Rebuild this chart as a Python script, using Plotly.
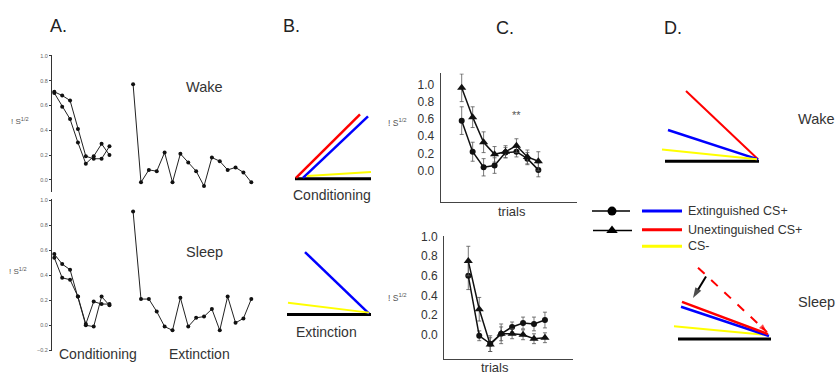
import plotly.graph_objects as go

W, H = 839, 382
FONT = "Arial, Liberation Sans, sans-serif"

# ---------------- data ----------------
cond_trials = [1, 2, 3, 4, 5, 6, 7, 8]
ext_trials = list(range(1, 17))
EXT_OFFSET = 10  # extinction trials drawn after a gap on the same axis

wake_cond_a = [0.71, 0.68, 0.64, 0.41, 0.19, 0.17, 0.17, 0.27]
wake_cond_b = [0.70, 0.59, 0.49, 0.30, 0.13, 0.19, 0.29, 0.20]
wake_ext = [0.77, -0.02, 0.08, 0.07, 0.22, -0.02, 0.21, 0.14,
            0.07, -0.05, 0.18, 0.15, 0.08, 0.10, 0.06, -0.02]

sleep_cond_a = [0.57, 0.49, 0.445, 0.23, 0.00, -0.01, 0.23, 0.16]
sleep_cond_b = [0.54, 0.38, 0.365, 0.23, 0.01, 0.19, 0.17, 0.17]
sleep_ext = [0.91, 0.21, 0.21, 0.11, -0.01, -0.04, 0.22, -0.01,
             0.06, 0.07, 0.13, -0.04, 0.23, 0.02, 0.055, 0.21]

c_trials = [1, 2, 3, 4, 5, 6, 7, 8]
c_wake_unext = [0.96, 0.62, 0.33, 0.19, 0.22, 0.29, 0.16, 0.11]
c_wake_unext_err = [0.16, 0.12, 0.12, 0.09, 0.07, 0.08, 0.08, 0.11]
c_wake_ext = [0.58, 0.22, 0.04, 0.06, 0.21, 0.22, 0.14, 0.01]
c_wake_ext_err = [0.16, 0.11, 0.10, 0.09, 0.06, 0.06, 0.07, 0.08]

c_sleep_unext = [0.75, 0.26, -0.10, 0.01, 0.01, 0.00, -0.04, -0.03]
c_sleep_unext_err = [0.15, 0.12, 0.07, 0.10, 0.05, 0.05, 0.05, 0.05]
c_sleep_ext = [0.60, -0.01, -0.09, 0.01, 0.08, 0.12, 0.11, 0.15]
c_sleep_ext_err = [0.14, 0.05, 0.08, 0.07, 0.05, 0.06, 0.07, 0.08]

a_ticks = [-0.2, 0.0, 0.2, 0.4, 0.6, 0.8, 1.0]
c_ticks = [0.0, 0.2, 0.4, 0.6, 0.8, 1.0]

# schematic diagrams (panels B and D): segments in figure-pixel frame
# (x0, y0, x1, y1, colour, width, dash)
schematic = [
    # B conditioning
    (295, 176, 371, 176, "black", 3, "solid"),
    (296, 175, 360, 110, "#ff0000", 2.5, "solid"),
    (303, 175, 368, 112, "#0000ff", 2.5, "solid"),
    (307, 173, 371, 169, "#ffff00", 2, "solid"),
    # B extinction
    (287, 315, 371, 315, "black", 3, "solid"),
    (305, 251, 369, 314, "#0000ff", 2.5, "solid"),
    (288, 303, 369, 313, "#ffff00", 2, "solid"),
    # D wake
    (665, 158, 759, 158, "black", 3, "solid"),
    (686, 86, 758, 156, "#ff0000", 2, "solid"),
    (668, 126, 758, 156, "#0000ff", 2.5, "solid"),
    (662, 146, 757, 156, "#ffff00", 2, "solid"),
    # D sleep
    (678, 340, 771, 340, "black", 3, "solid"),
    (674, 327, 768, 336, "#ffff00", 2, "solid"),
    (681, 307, 769, 337, "#0000ff", 2.5, "solid"),
    (682, 302, 768, 335, "#ff0000", 2.5, "solid"),
    (698, 267, 764, 330, "#ff0000", 2, "dash"),
    # legend swatches
    (592, 209, 630, 209, "black", 1.5, "solid"),
    (593, 229, 632, 229, "black", 1.5, "solid"),
    (642, 209, 682, 209, "#0000ff", 3, "solid"),
    (642, 228, 682, 228, "#ff0000", 3, "solid"),
    (642, 245, 682, 245, "#ffff00", 3, "solid"),
]
legend_markers = [(612, 209, "circle", 9), (612, 229, "triangle-up", 10)]
# arrows (tail x, tail y, head x, head y, colour, head size)
arrows = [(706, 276, 693, 298, "black", 11), (762, 328, 767, 333, "#ff0000", 9)]


def px(x):
    return x / W


def py(y):
    return 1 - y / H


def lin_range(p0, p1, p_ref, v_ref, px_per_unit, invert=False):
    if invert:  # vertical: pixel grows downward
        return [v_ref + (p_ref - p1) / px_per_unit, v_ref + (p_ref - p0) / px_per_unit]
    return [v_ref + (p0 - p_ref) / px_per_unit, v_ref + (p1 - p_ref) / px_per_unit]


fig = go.Figure()

line_a = dict(color="#222", width=1)
mk_a = dict(color="#111", size=4, symbol="circle")

# Panel A top (wake)
for s in (wake_cond_a, wake_cond_b):
    fig.add_trace(go.Scatter(x=cond_trials, y=s, mode="lines+markers", line=line_a,
                             marker=mk_a, xaxis="x", yaxis="y", showlegend=False))
fig.add_trace(go.Scatter(x=[t + EXT_OFFSET for t in ext_trials], y=wake_ext, mode="lines+markers",
                         line=line_a, marker=mk_a, xaxis="x", yaxis="y", showlegend=False))
# Panel A bottom (sleep)
for s in (sleep_cond_a, sleep_cond_b):
    fig.add_trace(go.Scatter(x=cond_trials, y=s, mode="lines+markers", line=line_a,
                             marker=mk_a, xaxis="x2", yaxis="y2", showlegend=False))
fig.add_trace(go.Scatter(x=[t + EXT_OFFSET for t in ext_trials], y=sleep_ext, mode="lines+markers",
                         line=line_a, marker=mk_a, xaxis="x2", yaxis="y2", showlegend=False))

# Panel C


def c_trace(y, err, sym, size, xa, ya):
    return go.Scatter(x=c_trials, y=y, mode="lines+markers",
                      line=dict(color="#111", width=1.5),
                      marker=dict(color="#111", size=size, symbol=sym),
                      error_y=dict(type="data", array=err, color="#555", thickness=0.8, width=2),
                      xaxis=xa, yaxis=ya, showlegend=False)


fig.add_trace(c_trace(c_wake_ext, c_wake_ext_err, "circle", 6, "x3", "y3"))
fig.add_trace(c_trace(c_wake_unext, c_wake_unext_err, "triangle-up", 8, "x3", "y3"))
fig.add_trace(c_trace(c_sleep_ext, c_sleep_ext_err, "circle", 6, "x4", "y4"))
fig.add_trace(c_trace(c_sleep_unext, c_sleep_unext_err, "triangle-up", 8, "x4", "y4"))

# schematic lines
for x0, y0, x1, y1, col, wd, dash in schematic:
    fig.add_trace(go.Scatter(x=[x0, x1], y=[y0, y1], mode="lines",
                             line=dict(color=col, width=wd, dash=dash),
                             xaxis="x5", yaxis="y5", showlegend=False, hoverinfo="skip"))
for x, y, sym, sz in legend_markers:
    fig.add_trace(go.Scatter(x=[x], y=[y], mode="markers",
                             marker=dict(color="black", size=sz, symbol=sym),
                             xaxis="x5", yaxis="y5", showlegend=False, hoverinfo="skip"))
for x0, y0, x1, y1, col, sz in arrows:
    fig.add_trace(go.Scatter(x=[x0, x1], y=[y0, y1], mode="lines+markers",
                             line=dict(color=col, width=2),
                             marker=dict(symbol="arrow", size=[0, sz], color=col, angleref="previous",
                                         line=dict(width=0)),
                             xaxis="x5", yaxis="y5", showlegend=False, hoverinfo="skip"))

# axes
A_X = dict(p_ref=54.3, v_ref=1, px_per_unit=7.88)
a_x_dom = (52, 262)
a_xrange = lin_range(a_x_dom[0], a_x_dom[1], **A_X)

a_y_common = dict(showline=True, linecolor="#333", linewidth=1.2, ticks="outside", ticklen=2,
                  tickcolor="#333", tickfont=dict(size=5.5, color="#666", family=FONT),
                  tickformat=".1f", tickvals=a_ticks, showgrid=False, zeroline=False)

top_dom = (49.5, 189.7)
bot_dom = (197, 352.5)

c_y_common = dict(showline=True, linecolor="#444", linewidth=1.2, ticks="",
                  tickfont=dict(size=12, color="#333", family=FONT),
                  tickformat=".1f", tickvals=c_ticks, showgrid=False, zeroline=False, ticklabelstandoff=3)
c_x_common = dict(showline=True, linecolor="#444", linewidth=1.2, ticks="", showticklabels=False,
                  showgrid=False, zeroline=False)

c1x = (440.7, 577)
c1y = (68, 199.3)
c2x = (444.3, 573)
c2y = (235, 360)

fig.update_layout(
    width=W, height=H, margin=dict(l=0, r=0, t=0, b=0),
    paper_bgcolor="white", plot_bgcolor="rgba(0,0,0,0)",
    font=dict(family=FONT, color="#333"),
    xaxis=dict(domain=[px(a_x_dom[0]), px(a_x_dom[1])], range=a_xrange, visible=False),
    yaxis=dict(domain=[py(top_dom[1]), py(top_dom[0])],
               range=lin_range(top_dom[0], top_dom[1], 177, 0, 127, invert=True),
               anchor="x", **a_y_common),
    xaxis2=dict(domain=[px(a_x_dom[0]), px(a_x_dom[1])], range=a_xrange, visible=False),
    yaxis2=dict(domain=[py(bot_dom[1]), py(bot_dom[0])],
                range=lin_range(bot_dom[0], bot_dom[1], 326, 0, 128, invert=True),
                anchor="x2", **a_y_common),
    xaxis3=dict(domain=[px(c1x[0]), px(c1x[1])], range=lin_range(c1x[0], c1x[1], 461.7, 1, 10.95),
                anchor="y3", **c_x_common),
    yaxis3=dict(domain=[py(c1y[1]), py(c1y[0])],
                range=lin_range(c1y[0], c1y[1], 167.7, 0, 88.5, invert=True),
                anchor="x3", **c_y_common),
    xaxis4=dict(domain=[px(c2x[0]), px(c2x[1])], range=lin_range(c2x[0], c2x[1], 468.3, 1, 10.95),
                anchor="y4", **c_x_common),
    yaxis4=dict(domain=[py(c2y[1]), py(c2y[0])],
                range=lin_range(c2y[0], c2y[1], 335.7, 0, 100.7, invert=True),
                anchor="x4", **c_y_common),
    xaxis5=dict(domain=[0, 1], range=[0, W], visible=False, anchor="y5"),
    yaxis5=dict(domain=[0, 1], range=[H, 0], visible=False, anchor="x5"),
)


def txt(x, y, s, size, color="#333", xanchor="center"):
    fig.add_annotation(x=px(x), y=py(y), xref="paper", yref="paper", text=s, showarrow=False,
                       font=dict(size=size, color=color, family=FONT), xanchor=xanchor, yanchor="middle")


S12 = "! S<sup>1/2</sup>"
# headings
txt(58, 19, "A.", 18, "#222")
txt(291, 19, "B.", 18, "#222")
txt(505, 21, "C.", 18, "#222")
txt(673, 21, "D.", 18, "#222")
# panel A
txt(20, 117, S12, 8, "#555")
txt(18, 270, S12, 8, "#555")
txt(204, 82, "Wake", 14.5)
txt(204, 251, "Sleep", 14.5)
txt(98, 355, "Conditioning", 14)
txt(199, 355, "Extinction", 14)
# panel B
txt(332, 193, "Conditioning", 14)
txt(326, 333, "Extinction", 14)
# panel C (y labels sit between B and C)
txt(397, 118, S12, 8.5, "#555")
txt(397, 298, S12, 8.5, "#555")
txt(516, 111, "**", 11, "#555")
txt(512, 209, "trials", 13)
txt(495, 369, "trials", 13)
# panel D
txt(816, 115, "Wake", 14.5)
txt(816, 302, "Sleep", 14.5)
txt(686, 209, "Extinguished CS+", 12.5, xanchor="left")
txt(686, 228, "Unextinguished CS+", 12.5, xanchor="left")
txt(686, 245, "CS-", 12.5, xanchor="left")

fig.write_html("out.html", config={"displayModeBar": False},
               post_script="document.body.style.margin='0';document.body.style.overflow='hidden';")
